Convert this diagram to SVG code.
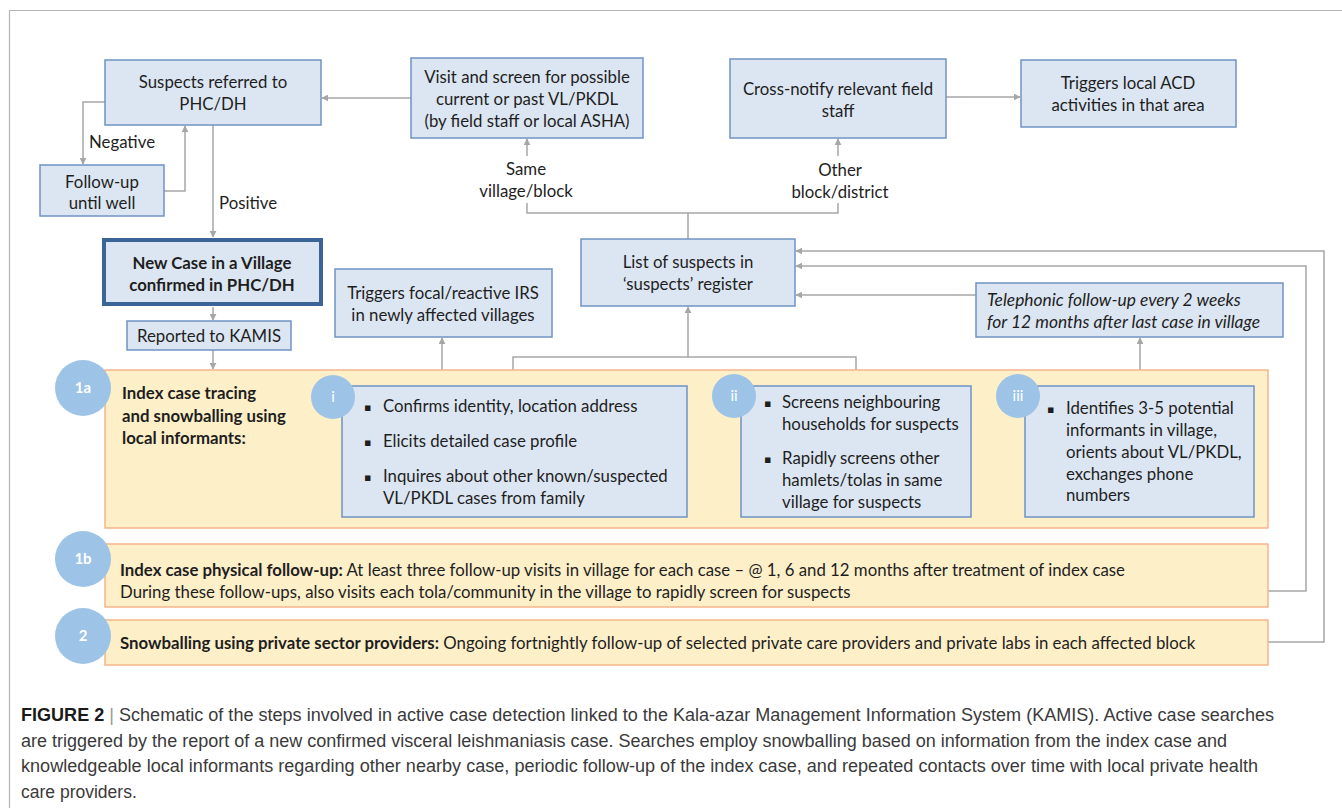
<svg xmlns="http://www.w3.org/2000/svg" width="1342" height="808" viewBox="0 0 1342 808">
<style>
.bx{fill:#dce6f2;stroke:#6f93c4;stroke-width:1.5}
.pn{fill:#fdefc8;stroke:#f5b58c;stroke-width:1.5}
.ci{fill:#9dc3e6}
.ct{font-family:Lato,"Liberation Sans",sans-serif;font-size:15px;font-weight:bold;fill:#ffffff;text-anchor:middle}
.t{font-family:Lato,"Liberation Sans",sans-serif;font-size:16.8px;fill:#1e1e1e}
.m{text-anchor:middle}
.b{font-weight:bold}
.i{font-style:italic;font-size:17.4px}
.bul{font-family:"DejaVu Sans",sans-serif;font-size:11px;fill:#1e1e1e}
.cn{fill:none;stroke:#a6a6a6;stroke-width:1.5}
.cap{font-family:"Liberation Sans",Arial,sans-serif;font-size:17.5px;fill:#3a3a3a}
</style>
<defs>
<marker id="ah" viewBox="0 0 10 10" refX="9" refY="5" markerWidth="7" markerHeight="7" markerUnits="userSpaceOnUse" orient="auto">
<path d="M0,0 L10,5 L0,10 z" fill="#a6a6a6"/>
</marker>
</defs>
<rect width="1342" height="808" fill="#ffffff"/>
<path d="M9.5,808 V10.5 H1342" fill="none" stroke="#b4b4b4" stroke-width="1.2"/>

<g id="connectors">
<path class="cn" d="M411,98 H322" marker-end="url(#ah)"/>
<path class="cn" d="M105,102 H83 V164" marker-end="url(#ah)"/>
<path class="cn" d="M164,191 H185 V126" marker-end="url(#ah)"/>
<path class="cn" d="M213,125 V237" marker-end="url(#ah)"/>
<path class="cn" d="M213,307 V320" marker-end="url(#ah)"/>
<path class="cn" d="M213,350 V369" marker-end="url(#ah)"/>
<path class="cn" d="M442,386 V338" marker-end="url(#ah)"/>
<path class="cn" d="M513,386 V357 H856 V386"/>
<path class="cn" d="M688,357 V307" marker-end="url(#ah)"/>
<path class="cn" d="M688,239 V213 M527,203 V213 H838 V203"/>
<path class="cn" d="M527,156 V139" marker-end="url(#ah)"/>
<path class="cn" d="M838,156 V139" marker-end="url(#ah)"/>
<path class="cn" d="M946,97 H1020" marker-end="url(#ah)"/>
<path class="cn" d="M1140,386 V338" marker-end="url(#ah)"/>
<path class="cn" d="M976,295 H796" marker-end="url(#ah)"/>
<path class="cn" d="M1268,591 H1306 V266 H796" marker-end="url(#ah)"/>
<path class="cn" d="M1268,642 H1324 V251 H796" marker-end="url(#ah)"/>
<text class="t" x="89" y="148">Negative</text>
<text class="t" x="219" y="209">Positive</text>
<text class="t m" x="526" y="175">Same</text>
<text class="t m" x="526" y="197">village/block</text>
<text class="t m" x="840" y="176">Other</text>
<text class="t m" x="840" y="198">block/district</text>
</g>

<g id="suspects">
<rect class="bx" x="105" y="60" width="216" height="65"/>
<text class="t m" x="213" y="88">Suspects referred to</text>
<text class="t m" x="213" y="110">PHC/DH</text>
</g>
<g id="visit">
<rect class="bx" x="411" y="58" width="232" height="80"/>
<text class="t m" x="527" y="83">Visit and screen for possible</text>
<text class="t m" x="527" y="105">current or past VL/PKDL</text>
<text class="t m" x="527" y="127">(by field staff or local ASHA)</text>
</g>
<g id="cross">
<rect class="bx" x="730" y="59" width="216" height="79"/>
<text class="t m" x="838" y="95">Cross-notify relevant field</text>
<text class="t m" x="838" y="117">staff</text>
</g>
<g id="acd">
<rect class="bx" x="1021" y="60" width="215" height="67"/>
<text class="t m" x="1128" y="89">Triggers local ACD</text>
<text class="t m" x="1128" y="111">activities in that area</text>
</g>
<g id="followup">
<rect class="bx" x="40" y="165" width="124" height="51"/>
<text class="t m" x="102" y="188">Follow-up</text>
<text class="t m" x="102" y="209">until well</text>
</g>
<g id="newcase">
<rect x="104" y="240" width="217" height="64" fill="#dce6f2" stroke="#3b6597" stroke-width="4"/>
<text class="t m b" x="212" y="269">New Case in a Village</text>
<text class="t m b" x="212" y="291">confirmed in PHC/DH</text>
</g>
<g id="reported">
<rect class="bx" x="127" y="321" width="164" height="29"/>
<text class="t m" x="209" y="342">Reported to KAMIS</text>
</g>
<g id="irs">
<rect class="bx" x="335" y="269" width="217" height="68"/>
<text class="t m" x="443" y="299">Triggers focal/reactive IRS</text>
<text class="t m" x="443" y="321">in newly affected villages</text>
</g>
<g id="list">
<rect class="bx" x="581" y="239" width="214" height="67"/>
<text class="t m" x="688" y="268">List of suspects in</text>
<text class="t m" x="688" y="290">‘suspects’ register</text>
</g>
<g id="telephonic">
<rect class="bx" x="976" y="283" width="307" height="54"/>
<text class="t i" x="987" y="306">Telephonic follow-up every 2 weeks</text>
<text class="t i" x="987" y="328">for 12 months after last case in village</text>
</g>

<g id="panel1a">
<rect class="pn" x="105" y="370" width="1163" height="158"/>
<circle class="ci" cx="83" cy="388" r="28"/>
<text class="ct" x="83" y="393">1a</text>
<text class="t b" x="122" y="399">Index case tracing</text>
<text class="t b" x="122" y="422">and snowballing using</text>
<text class="t b" x="122" y="444">local informants:</text>
</g>
<g id="box-i">
<rect class="bx" x="342" y="386" width="345" height="131"/>
<circle class="ci" cx="333" cy="397" r="22"/>
<text class="ct" x="333" y="402" style="font-weight:normal">i</text>
<text class="bul" x="364" y="411">▪</text>
<text class="t" x="383" y="412">Confirms identity, location address</text>
<text class="bul" x="364" y="446">▪</text>
<text class="t" x="383" y="447">Elicits detailed case profile</text>
<text class="bul" x="364" y="481">▪</text>
<text class="t" x="383" y="482">Inquires about other known/suspected</text>
<text class="t" x="383" y="504">VL/PKDL cases from family</text>
</g>
<g id="box-ii">
<rect class="bx" x="741" y="386" width="230" height="131"/>
<circle class="ci" cx="734" cy="396" r="22"/>
<text class="ct" x="734" y="401" style="font-weight:normal">ii</text>
<text class="bul" x="764" y="407">▪</text>
<text class="t" x="782" y="408">Screens neighbouring</text>
<text class="t" x="782" y="430">households for suspects</text>
<text class="bul" x="764" y="463">▪</text>
<text class="t" x="782" y="464">Rapidly screens other</text>
<text class="t" x="782" y="486">hamlets/tolas in same</text>
<text class="t" x="782" y="508">village for suspects</text>
</g>
<g id="box-iii">
<rect class="bx" x="1025" y="386" width="229" height="131"/>
<circle class="ci" cx="1018" cy="396" r="22"/>
<text class="ct" x="1018" y="401" style="font-weight:normal">iii</text>
<text class="bul" x="1047" y="413">▪</text>
<text class="t" x="1066" y="414">Identifies 3-5 potential</text>
<text class="t" x="1066" y="436">informants in village,</text>
<text class="t" x="1066" y="458">orients about VL/PKDL,</text>
<text class="t" x="1066" y="480">exchanges phone</text>
<text class="t" x="1066" y="501">numbers</text>
</g>
<g id="panel1b">
<rect class="pn" x="105" y="544" width="1163" height="63"/>
<circle class="ci" cx="83" cy="559" r="28"/>
<text class="ct" x="83" y="564">1b</text>
<text class="t" x="120" y="576"><tspan class="b">Index case physical follow-up:</tspan> At least three follow-up visits in village for each case – @ 1, 6 and 12 months after treatment of index case</text>
<text class="t" x="120" y="598">During these follow-ups, also visits each tola/community in the village to rapidly screen for suspects</text>
</g>
<g id="panel2">
<rect class="pn" x="105" y="620" width="1163" height="45"/>
<circle class="ci" cx="83" cy="636" r="28"/>
<text class="ct" x="83" y="641">2</text>
<text class="t" x="120" y="649"><tspan class="b">Snowballing using private sector providers:</tspan> Ongoing fortnightly follow-up of selected private care providers and private labs in each affected block</text>
</g>

<g id="caption">
<text class="cap" x="21" y="721" textLength="1253" lengthAdjust="spacingAndGlyphs"><tspan font-weight="bold" fill="#1a1a1a">FIGURE 2</tspan><tspan fill="#999"> | </tspan>Schematic of the steps involved in active case detection linked to the Kala-azar Management Information System (KAMIS). Active case searches</text>
<text class="cap" x="21" y="747" textLength="1206" lengthAdjust="spacingAndGlyphs">are triggered by the report of a new confirmed visceral leishmaniasis case. Searches employ snowballing based on information from the index case and</text>
<text class="cap" x="21" y="772" textLength="1237" lengthAdjust="spacingAndGlyphs">knowledgeable local informants regarding other nearby case, periodic follow-up of the index case, and repeated contacts over time with local private health</text>
<text class="cap" x="21" y="798">care providers.</text>
</g>
</svg>
